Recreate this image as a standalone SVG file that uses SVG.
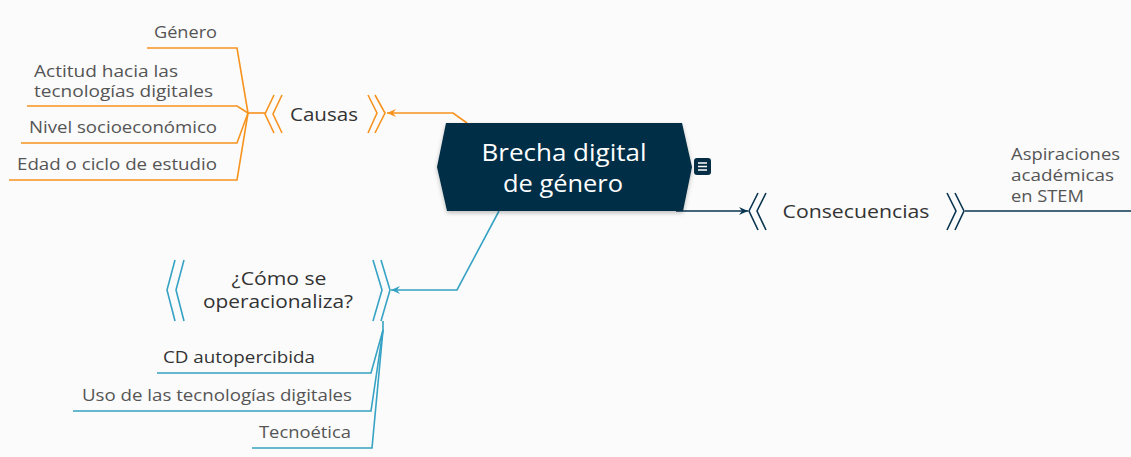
<svg xmlns="http://www.w3.org/2000/svg" width="1131" height="457" viewBox="0 0 1131 457">
<style>
.t{font-family:"Open Sans","Liberation Sans",sans-serif}
.leaf{font-size:16px;fill:#555}
.main{font-size:19px;fill:#333}
.root{font-size:24px;fill:#fff;font-weight:500}
.o{stroke:#f7931e;fill:none;stroke-width:1.6}
.b{stroke:#36a2c4;fill:none;stroke-width:1.6}
.n{stroke:#0a3550;fill:none;stroke-width:1.6}
</style>
<defs>
<marker id="ao" markerWidth="10" markerHeight="10" refX="9" refY="5" orient="auto" markerUnits="userSpaceOnUse"><path d="M0,1 L9,5 L0,9 L3,5 Z" fill="#f7931e"/></marker>
<marker id="ab" markerWidth="10" markerHeight="10" refX="9" refY="5" orient="auto" markerUnits="userSpaceOnUse"><path d="M0,1 L9,5 L0,9 L3,5 Z" fill="#36a2c4"/></marker>
<marker id="an" markerWidth="10" markerHeight="10" refX="9" refY="5" orient="auto" markerUnits="userSpaceOnUse"><path d="M0,1 L9,5 L0,9 L3,5 Z" fill="#0a3550"/></marker>
<filter id="sh" x="-10%" y="-10%" width="120%" height="130%"><feDropShadow dx="0" dy="2" stdDeviation="2" flood-color="#000" flood-opacity="0.25"/></filter>
</defs>
<rect width="1131" height="457" fill="#fbfbfb"/>
<g id="connectors">
<polyline class="o" points="467,123 453,113 387,113" marker-end="url(#ao)"/>
<polyline class="b" points="499,211 457,290 391,290" marker-end="url(#ab)"/>
<polyline class="n" points="676,211 748,211" marker-end="url(#an)"/>
<line class="o" x1="248" y1="113" x2="265" y2="113"/>
<polyline class="o" points="248,113 237,48 147,48"/>
<polyline class="o" points="248,113 237,106 27,106"/>
<polyline class="o" points="248,113 237,143 21,143"/>
<polyline class="o" points="248,113 237,180 9,180"/>
<line class="b" x1="383" y1="321" x2="383" y2="330"/>
<polyline class="b" points="383,330 371,373 157,373"/>
<polyline class="b" points="383,330 371,411 73,411"/>
<polyline class="b" points="383,330 372,448 252,448"/>
<line class="n" x1="965" y1="211" x2="1131" y2="211"/>
</g>
<g id="root">
<polygon points="446,123 682,123 692,167 683,211 447,211 437,167" fill="#062d46" filter="url(#sh)"/>
<text class="t root" x="564" y="161" text-anchor="middle" textLength="165" lengthAdjust="spacingAndGlyphs">Brecha digital</text>
<text class="t root" x="563" y="192" text-anchor="middle" textLength="120" lengthAdjust="spacingAndGlyphs">de género</text>
<rect x="694" y="158" width="17" height="17" rx="3" fill="#062d46"/>
<path d="M698,163 H707 M698,166.5 H707 M698,170 H707" stroke="#fff" stroke-width="1.4"/>
</g>
<g id="causas">
<polyline class="o" points="274,95 265,114 274,133"/>
<polyline class="o" points="282,95 273,114 282,133"/>
<polyline class="o" points="368,95 377,113 368,133"/>
<polyline class="o" points="375,95 385,113 375,133"/>
<text class="t main" x="324" y="121" text-anchor="middle" textLength="68" lengthAdjust="spacingAndGlyphs">Causas</text>
</g>
<g id="genero"><text class="t leaf" x="217" y="38" text-anchor="end" textLength="63" lengthAdjust="spacingAndGlyphs">Género</text></g>
<g id="actitud"><text class="t leaf" x="34" y="77" textLength="144" lengthAdjust="spacingAndGlyphs">Actitud hacia las</text><text class="t leaf" x="34" y="97" textLength="179" lengthAdjust="spacingAndGlyphs">tecnologías digitales</text></g>
<g id="nivel"><text class="t leaf" x="217" y="133" text-anchor="end" textLength="188" lengthAdjust="spacingAndGlyphs">Nivel socioeconómico</text></g>
<g id="edad"><text class="t leaf" x="217" y="170" text-anchor="end" textLength="200" lengthAdjust="spacingAndGlyphs">Edad o ciclo de estudio</text></g>
<g id="consecuencias">
<polyline class="n" points="758,193 749,211 758,230"/>
<polyline class="n" points="766,193 757,211 766,230"/>
<polyline class="n" points="947,193 956,211 947,230"/>
<polyline class="n" points="955,193 964,211 955,230"/>
<text class="t main" x="856" y="218" text-anchor="middle" textLength="147" lengthAdjust="spacingAndGlyphs">Consecuencias</text>
</g>
<g id="aspiraciones"><text class="t leaf" x="1011" y="160" textLength="109" lengthAdjust="spacingAndGlyphs">Aspiraciones</text><text class="t leaf" x="1011" y="181" textLength="103" lengthAdjust="spacingAndGlyphs">académicas</text><text class="t leaf" x="1011" y="202" textLength="73" lengthAdjust="spacingAndGlyphs">en STEM</text></g>
<g id="operacionaliza">
<polyline class="b" points="175,260 167,290 175,321"/>
<polyline class="b" points="184,260 176,290 184,321"/>
<polyline class="b" points="373,260 382,290 373,321"/>
<polyline class="b" points="381,260 390,290 381,321"/>
<text class="t main" x="279" y="285" text-anchor="middle" textLength="95" lengthAdjust="spacingAndGlyphs">¿Cómo se</text>
<text class="t main" x="278" y="308" text-anchor="middle" textLength="150" lengthAdjust="spacingAndGlyphs">operacionaliza?</text>
</g>
<g id="cd"><text class="t leaf" x="315" y="363" text-anchor="end" style="fill:#333" textLength="152" lengthAdjust="spacingAndGlyphs">CD autopercibida</text></g>
<g id="uso"><text class="t leaf" x="352" y="401" text-anchor="end" textLength="270" lengthAdjust="spacingAndGlyphs">Uso de las tecnologías digitales</text></g>
<g id="tecnoetica"><text class="t leaf" x="351" y="438" text-anchor="end" textLength="92" lengthAdjust="spacingAndGlyphs">Tecnoética</text></g>
</svg>
